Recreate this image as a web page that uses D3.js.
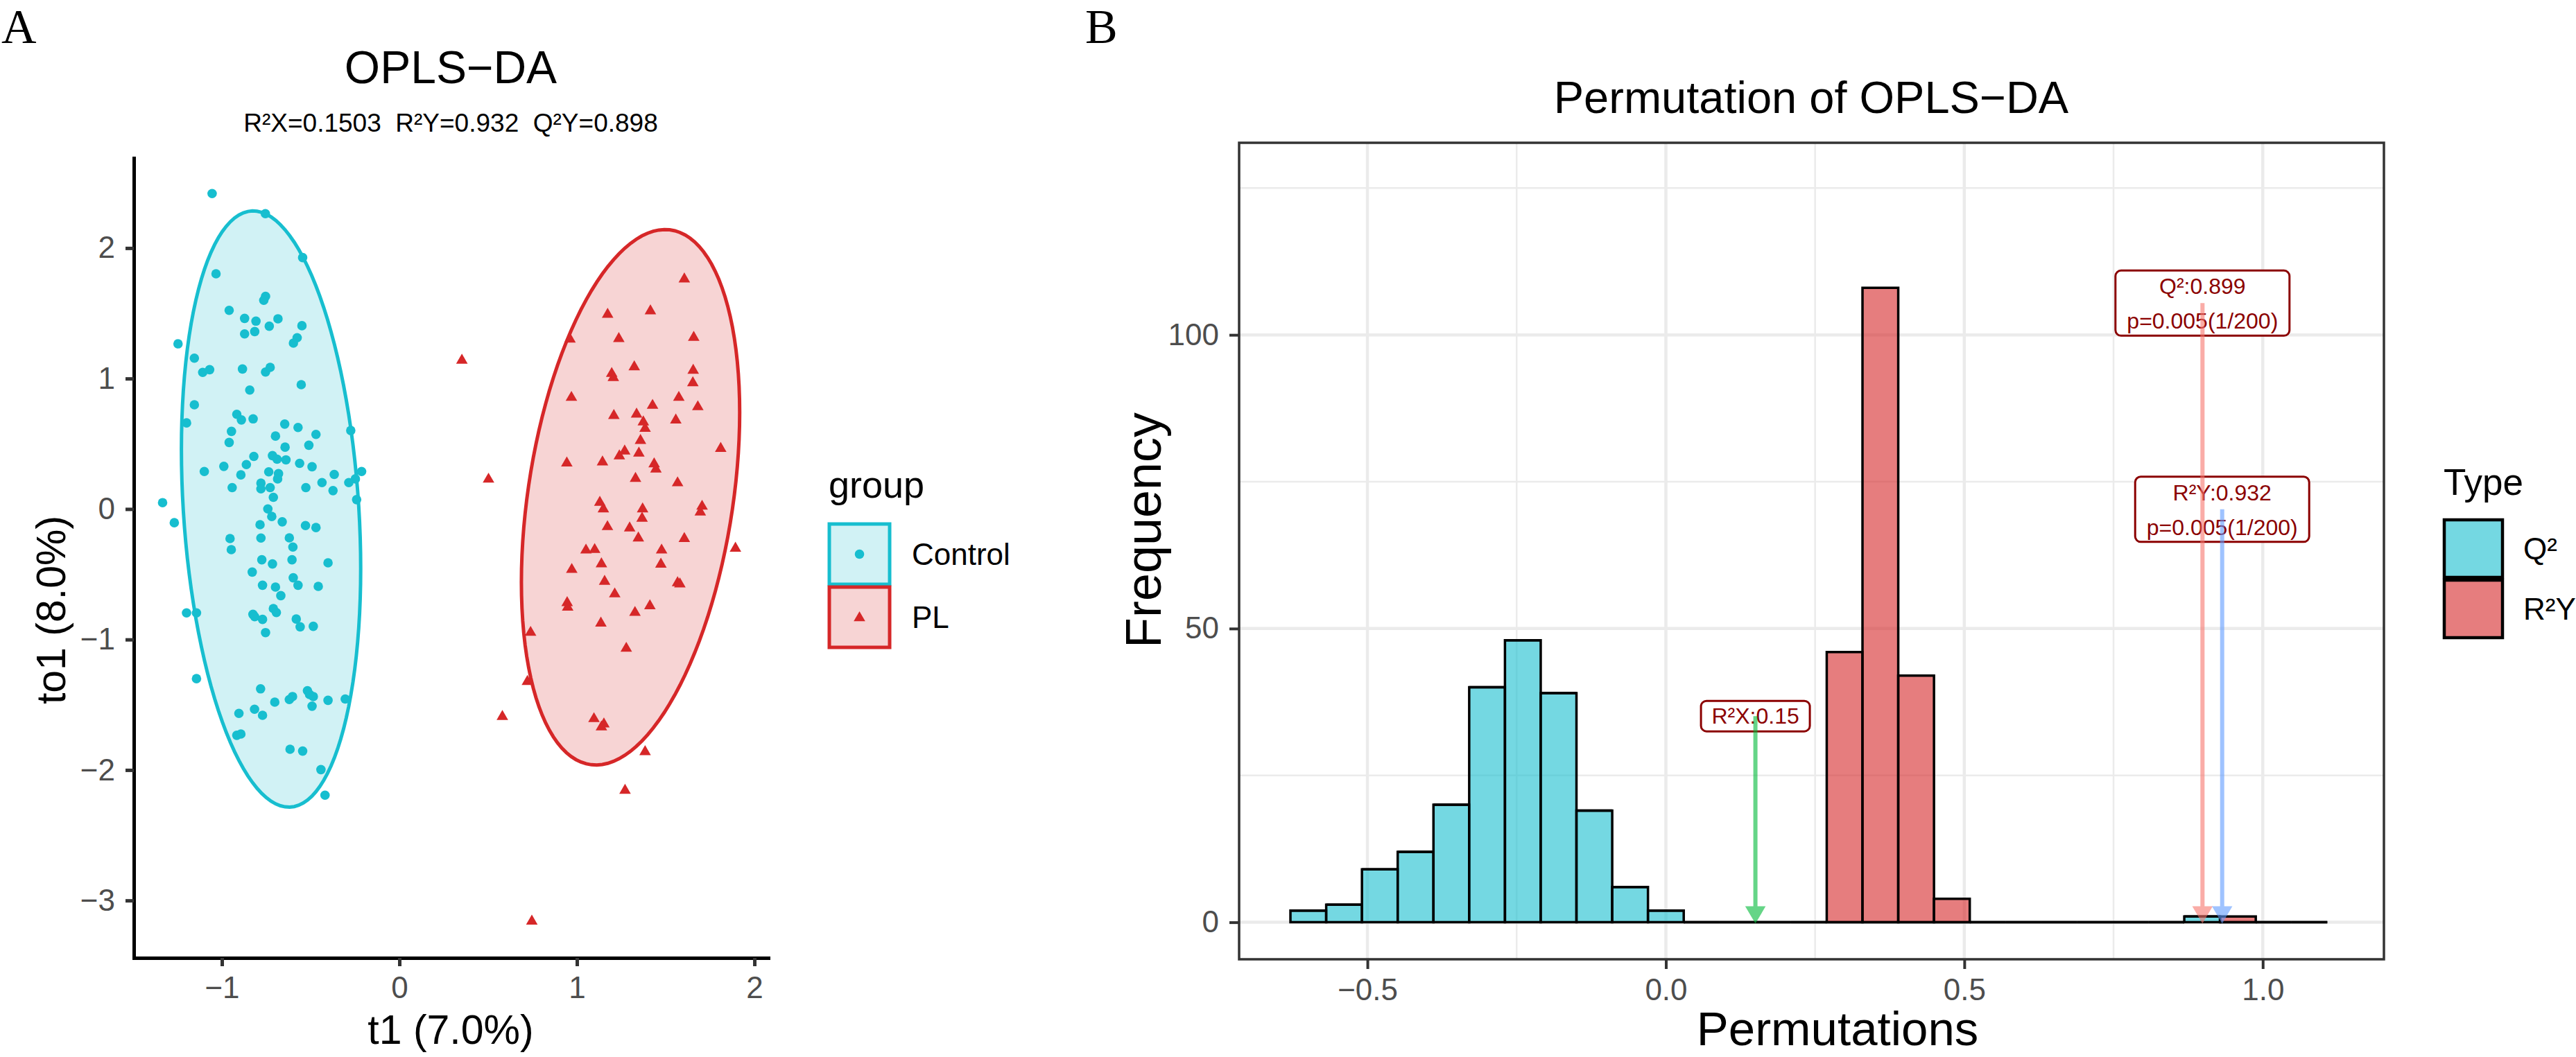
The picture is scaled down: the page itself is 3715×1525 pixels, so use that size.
<!DOCTYPE html>
<html>
<head>
<meta charset="utf-8">
<script src="https://cdn.jsdelivr.net/npm/d3@7"></script>
<style>
  body { margin: 0; background: #fff; }
  text { font-family: "Liberation Sans", Arial, sans-serif; }
</style>
</head>
<body>
<svg id="chart"></svg>
<script>
// ---------------- data ----------------
// Panel A: OPLS-DA scores [t1, to1]
const controlScores = [
  [-1.055, 2.418], [-0.755, 2.264], [-0.545, 1.927], [-1.033, 1.803], [-0.754, 1.630],
  [-0.764, 1.600], [-0.959, 1.523], [-0.872, 1.461], [-0.808, 1.440], [-0.684, 1.458],
  [-0.733, 1.401], [-0.549, 1.405], [-0.872, 1.342], [-0.815, 1.360], [-0.576, 1.313],
  [-1.247, 1.266], [-0.597, 1.272], [-1.155, 1.156], [-1.108, 1.047], [-1.069, 1.068],
  [-0.884, 1.073], [-0.754, 1.050], [-0.728, 1.086], [-0.553, 0.953], [-0.843, 0.912],
  [-1.155, 0.799], [-0.916, 0.726], [-0.890, 0.683], [-0.824, 0.691], [-1.199, 0.660],
  [-0.646, 0.651], [-0.571, 0.625], [-0.274, 0.602], [-0.946, 0.595], [-0.698, 0.559],
  [-0.470, 0.572], [-0.959, 0.510], [-0.510, 0.489], [-0.644, 0.474], [-0.820, 0.403],
  [-0.715, 0.409], [-0.689, 0.382], [-0.639, 0.377], [-0.562, 0.350], [-0.862, 0.341],
  [-0.989, 0.327], [-0.492, 0.324], [-1.099, 0.288], [-0.736, 0.285], [-0.681, 0.271],
  [-0.893, 0.262], [-0.367, 0.265], [-0.213, 0.288], [-0.686, 0.231], [-0.780, 0.199],
  [-0.436, 0.203], [-0.248, 0.231], [-0.285, 0.203], [-0.942, 0.164], [-0.780, 0.155],
  [-0.728, 0.164], [-0.527, 0.164], [-0.374, 0.141], [-0.710, 0.090], [-0.241, 0.072],
  [-1.334, 0.049], [-0.741, 0.001], [-0.719, -0.057], [-1.268, -0.105], [-0.660, -0.098],
  [-0.785, -0.120], [-0.529, -0.127], [-0.470, -0.142], [-0.954, -0.226], [-0.780, -0.222],
  [-0.620, -0.221], [-0.947, -0.311], [-0.600, -0.291], [-0.775, -0.389], [-0.715, -0.421],
  [-0.605, -0.389], [-0.402, -0.412], [-0.829, -0.483], [-0.598, -0.527], [-0.771, -0.584],
  [-0.698, -0.598], [-0.571, -0.584], [-0.457, -0.593], [-0.668, -0.664], [-1.199, -0.796],
  [-1.143, -0.796], [-0.825, -0.807], [-0.710, -0.763], [-0.693, -0.793], [-0.815, -0.825],
  [-0.771, -0.846], [-0.581, -0.843], [-0.559, -0.903], [-0.485, -0.899], [-0.754, -0.947],
  [-1.143, -1.300], [-0.782, -1.378], [-0.518, -1.392], [-0.602, -1.437], [-0.620, -1.460],
  [-0.506, -1.421], [-0.485, -1.437], [-0.702, -1.480], [-0.402, -1.466], [-0.305, -1.456],
  [-0.492, -1.511], [-0.816, -1.534], [-0.904, -1.566], [-0.771, -1.581], [-0.916, -1.734],
  [-0.893, -1.724], [-0.616, -1.841], [-0.545, -1.855], [-0.442, -1.997], [-0.419, -2.193]
];
const plScores = [
  [1.605, 1.768], [1.173, 1.497], [1.414, 1.523], [0.961, 1.307], [1.236, 1.311],
  [1.658, 1.320], [0.352, 1.145], [1.323, 1.094], [1.196, 1.043], [1.205, 1.012],
  [1.655, 1.068], [1.653, 0.972], [0.969, 0.860], [1.574, 0.860], [1.426, 0.799],
  [1.681, 0.788], [1.208, 0.721], [1.336, 0.732], [1.374, 0.672], [1.384, 0.622],
  [1.557, 0.687], [1.358, 0.530], [1.810, 0.469], [1.269, 0.449], [1.239, 0.412],
  [1.349, 0.433], [0.943, 0.357], [1.144, 0.365], [1.435, 0.351], [1.445, 0.311],
  [0.502, 0.233], [1.330, 0.239], [1.567, 0.205], [1.129, 0.056], [1.149, 0.005],
  [1.370, 0.005], [1.705, 0.026], [1.695, -0.019], [1.367, -0.066], [1.172, -0.131],
  [1.297, -0.141], [1.346, -0.218], [1.605, -0.222], [1.051, -0.310], [1.100, -0.306],
  [1.477, -0.310], [1.893, -0.296], [1.138, -0.416], [1.473, -0.418], [0.971, -0.459],
  [1.156, -0.550], [1.567, -0.560], [1.580, -0.570], [1.213, -0.646], [0.945, -0.713],
  [0.948, -0.748], [1.411, -0.737], [1.327, -0.788], [1.135, -0.870], [0.739, -0.941],
  [1.278, -1.063], [0.721, -1.317], [0.580, -1.586], [1.096, -1.602], [1.152, -1.643],
  [1.138, -1.666], [1.384, -1.855], [1.271, -2.151], [0.746, -3.154]
];
// 95% ellipses: centre and covariance (t1, to1)
const ellipseCentres = [[-0.723, 0.0], [1.302, 0.09]];
const ellipseCov = [[0.255, -0.23, 5.22], [0.378, 0.40, 4.21]]; // [sxx, sxy, syy]
const groups = ["Control", "PL"];
const subtitle = "R²X=0.1503  R²Y=0.932  Q²Y=0.898";

// Panel B: permutation histogram (stacked)
const binStart = -0.629;
const binWidth = 0.0599;
const q2Counts  = [2, 3, 9, 12, 20, 40, 48, 39, 19, 6, 2, 0, 0, 0, 0, 0, 0, 0, 0, 0, 0, 0, 0, 0, 0, 1, 0, 0, 0];
const r2yCounts = [0, 0, 0, 0, 0, 0, 0, 0, 0, 0, 0, 0, 0, 0, 0, 46, 108, 42, 4, 0, 0, 0, 0, 0, 0, 0, 1, 0, 0];
const types = ["Q²", "R²Y"];
// annotations: observed values and label heights
const annoValues = [0.15, 0.899, 0.932];
const annoLabelY = [35.1, 105.4, 70.3];
const annoLines = [["R²X:0.15"], ["Q²:0.899", "p=0.005(1/200)"], ["R²Y:0.932", "p=0.005(1/200)"]];

const xTicksA = [-1, 0, 1, 2];
const yTicksA = [-3, -2, -1, 0, 1, 2];
const xTicksB = [-0.5, 0, 0.5, 1.0];
const yTicksB = [0, 50, 100];

// ---------------- setup ----------------
const W = 3715, H = 1525;
const svg = d3.select('#chart').attr('width', W).attr('height', H);
svg.append('rect').attr('width', W).attr('height', H).attr('fill', '#fff');

const fmtMinus = d => (d < 0 ? '\u2212' + Math.abs(d) : String(d));
const tickGrey = '#4D4D4D';
const serif = '"Liberation Serif", "Times New Roman", serif';

// ================= Panel A =================
const colA = ['#17BECF', '#D62728'];
const xA = d3.scaleLinear().domain([-1.496, 2.078]).range([193, 1108]);
const yA = d3.scaleLinear().domain([-3.44, 2.69]).range([1382, 228]);

const gA = svg.append('g');

// ellipses
ellipseCentres.forEach((c, k) => {
  const [sxx, sxy, syy] = ellipseCov[k];
  const l11 = Math.sqrt(sxx), l21 = sxy / l11, l22 = Math.sqrt(syy - l21 * l21);
  const pts = d3.range(0, 361, 3).map(a => {
    const t = a * Math.PI / 180;
    return [c[0] + l11 * Math.cos(t), c[1] + l21 * Math.cos(t) + l22 * Math.sin(t)];
  });
  gA.append('path')
    .attr('d', d3.line().x(d => xA(d[0])).y(d => yA(d[1])).curve(d3.curveLinearClosed)(pts))
    .attr('fill', colA[k]).attr('fill-opacity', 0.2)
    .attr('stroke', colA[k]).attr('stroke-width', 5);
});

// points
gA.append('g').selectAll('circle')
  .data(controlScores)
  .enter().append('circle')
    .attr('cx', d => xA(d[0]))
    .attr('cy', d => yA(d[1]))
    .attr('r', 6.8)
    .attr('fill', colA[0]);

const tri = d3.symbol().type(d3.symbolTriangle).size(120);
gA.append('g').selectAll('path')
  .data(plScores)
  .enter().append('path')
    .attr('d', tri)
    .attr('transform', d => `translate(${xA(d[0])},${yA(d[1]) + 1})`)
    .attr('fill', colA[1]);

// axes (classic theme)
const axA_x = gA.append('g')
    .attr('transform', 'translate(0,1382)')
    .call(d3.axisBottom(xA).tickValues(xTicksA).tickSize(12).tickSizeOuter(0).tickPadding(15).tickFormat(fmtMinus));
const axA_y = gA.append('g')
    .attr('transform', 'translate(193,0)')
    .call(d3.axisLeft(yA).tickValues(yTicksA).tickSize(12).tickSizeOuter(0).tickPadding(15).tickFormat(fmtMinus));
[axA_x, axA_y].forEach(ax => {
  ax.select('.domain').attr('stroke', '#000').attr('stroke-width', 5).attr('stroke-linecap', 'square');
  ax.selectAll('.tick line').attr('stroke', '#333').attr('stroke-width', 5);
  ax.selectAll('.tick text').attr('fill', tickGrey).style('font-size', '44px');
});

// titles
gA.append('text').attr('x', 650).attr('y', 120).attr('text-anchor', 'middle')
  .style('font-size', '66px').text('OPLS\u2212DA');
gA.append('text').attr('x', 650).attr('y', 190).attr('text-anchor', 'middle')
  .style('font-size', '37px').style('white-space', 'pre').text(subtitle);
gA.append('text').attr('x', 650).attr('y', 1506).attr('text-anchor', 'middle')
  .style('font-size', '59px').text('t1 (7.0%)');
gA.append('text').attr('transform', 'translate(94,880) rotate(-90)').attr('text-anchor', 'middle')
  .style('font-size', '59px').text('to1 (8.0%)');
svg.append('text').attr('x', 2).attr('y', 62)
  .style('font-family', serif).style('font-size', '70px').text('A');

// legend A
const legA = gA.append('g');
legA.append('text').attr('x', 1195).attr('y', 718).style('font-size', '54px').text('group');
groups.forEach((g, k) => {
  const ky = 756 + k * 91;
  legA.append('rect').attr('x', 1196).attr('y', ky).attr('width', 87).attr('height', 87)
    .attr('fill', colA[k]).attr('fill-opacity', 0.2).attr('stroke', colA[k]).attr('stroke-width', 5);
  if (k === 0) {
    legA.append('circle').attr('cx', 1239.5).attr('cy', ky + 43.5).attr('r', 6.8).attr('fill', colA[k]);
  } else {
    legA.append('path').attr('d', tri).attr('transform', `translate(1239.5,${ky + 44.5})`).attr('fill', colA[k]);
  }
  legA.append('text').attr('x', 1315).attr('y', ky + 59).style('font-size', '44px').text(g);
});

// ================= Panel B =================
const colB = ['#17BECF', '#D62728'];
const xB = d3.scaleLinear().domain([-0.715, 1.203]).range([1787, 3438]);
const yB = d3.scaleLinear().domain([-6.3, 132.7]).range([1384, 206]);
const gB = svg.append('g');

// grid
const xMinor = [-0.25, 0.25, 0.75], yMinor = [25, 75, 125];
const grid = gB.append('g');
grid.selectAll('.vmin').data(xMinor).enter().append('line')
  .attr('x1', d => xB(d)).attr('x2', d => xB(d)).attr('y1', 206).attr('y2', 1384)
  .attr('stroke', '#EBEBEB').attr('stroke-width', 2.5);
grid.selectAll('.hmin').data(yMinor).enter().append('line')
  .attr('x1', 1787).attr('x2', 3438).attr('y1', d => yB(d)).attr('y2', d => yB(d))
  .attr('stroke', '#EBEBEB').attr('stroke-width', 2.5);
grid.selectAll('.vmaj').data(xTicksB).enter().append('line')
  .attr('x1', d => xB(d)).attr('x2', d => xB(d)).attr('y1', 206).attr('y2', 1384)
  .attr('stroke', '#EBEBEB').attr('stroke-width', 4.5);
grid.selectAll('.hmaj').data(yTicksB).enter().append('line')
  .attr('x1', 1787).attr('x2', 3438).attr('y1', d => yB(d)).attr('y2', d => yB(d))
  .attr('stroke', '#EBEBEB').attr('stroke-width', 4.5);

// stacked histogram
const binData = q2Counts.map((q, i) => ({ i: i, Q2: q, R2Y: r2yCounts[i] }));
const stacked = d3.stack().keys(['Q2', 'R2Y'])(binData);
const bw = xB(binWidth) - xB(0);
stacked.forEach((series, k) => {
  gB.append('g').selectAll('path')
    .data(series)
    .enter().append('path')
      .attr('d', d => {
        const x0 = xB(binStart + d.data.i * binWidth);
        const y0 = yB(d[0]), y1 = yB(d[1]);
        return `M${x0},${y0}V${y1}H${x0 + bw}V${y0}Z`;
      })
      .attr('fill', colB[k]).attr('fill-opacity', 0.6)
      .attr('stroke', '#000').attr('stroke-width', 3.5);
});

// annotation labels
const annoCol = ['#00BA38', '#F8766D', '#619CFF'];
annoValues.forEach((v, k) => {
  const lines = annoLines[k];
  const cx = xB(v), cy = yB(annoLabelY[k]);
  const hh = lines.length === 1 ? 22 : 47;
  const w = lines.length === 1 ? 157 : 251;
  gB.append('rect').attr('x', cx - w / 2).attr('y', cy - hh).attr('width', w).attr('height', hh * 2)
    .attr('rx', 8).attr('fill', '#fff').attr('stroke', '#8B0000').attr('stroke-width', 3);
  lines.forEach((t, j) => {
    const by = lines.length === 1 ? cy + 11 : cy - hh + 34 + j * 50;
    gB.append('text').attr('x', cx).attr('y', by).attr('text-anchor', 'middle')
      .attr('fill', '#8B0000').style('font-size', '32px').text(t);
  });
});
// arrows
annoValues.forEach((v, k) => {
  const x = xB(v), yTop = yB(annoLabelY[k]), yTip = yB(0);
  const a = gB.append('g').attr('opacity', 0.6);
  a.append('line').attr('x1', x).attr('x2', x).attr('y1', yTop).attr('y2', yTip - 18)
    .attr('stroke', annoCol[k]).attr('stroke-width', 6);
  a.append('path').attr('d', `M${x - 13},${yTip - 22}L${x + 13},${yTip - 22}L${x},${yTip}Z`)
    .attr('fill', annoCol[k]).attr('stroke', annoCol[k]).attr('stroke-width', 2);
});

// panel border
gB.append('rect').attr('x', 1787).attr('y', 206).attr('width', 3438 - 1787).attr('height', 1384 - 206)
  .attr('fill', 'none').attr('stroke', '#333').attr('stroke-width', 3.5);

// axes
const axB_x = gB.append('g')
    .attr('transform', 'translate(0,1384)')
    .call(d3.axisBottom(xB).tickValues(xTicksB).tickSize(14).tickSizeOuter(0).tickPadding(14)
      .tickFormat(d => (d < 0 ? '\u2212' : '') + Math.abs(d).toFixed(1)));
const axB_y = gB.append('g')
    .attr('transform', 'translate(1787,0)')
    .call(d3.axisLeft(yB).tickValues(yTicksB).tickSize(14).tickSizeOuter(0).tickPadding(15));
[axB_x, axB_y].forEach(ax => {
  ax.select('.domain').remove();
  ax.selectAll('.tick line').attr('stroke', '#333').attr('stroke-width', 4);
  ax.selectAll('.tick text').attr('fill', tickGrey).style('font-size', '44px');
});

gB.append('text').attr('x', 2612).attr('y', 163).attr('text-anchor', 'middle')
  .style('font-size', '65px').text('Permutation of OPLS\u2212DA');
gB.append('text').attr('x', 2650).attr('y', 1508).attr('text-anchor', 'middle')
  .style('font-size', '69px').text('Permutations');
gB.append('text').attr('transform', 'translate(1674,765) rotate(-90)').attr('text-anchor', 'middle')
  .style('font-size', '72px').text('Frequency');
svg.append('text').attr('x', 1565).attr('y', 62)
  .style('font-family', serif).style('font-size', '70px').text('B');

// legend B
const legB = gB.append('g');
legB.append('text').attr('x', 3524).attr('y', 714).style('font-size', '53px').text('Type');
types.forEach((t, k) => {
  const ky = 750 + k * 87;
  legB.append('rect').attr('x', 3525).attr('y', ky).attr('width', 84).attr('height', 83)
    .attr('fill', colB[k]).attr('fill-opacity', 0.6).attr('stroke', '#000').attr('stroke-width', 4.5);
  legB.append('text').attr('x', 3639).attr('y', ky + 57).style('font-size', '44px').text(t);
});
</script>
</body>
</html>
